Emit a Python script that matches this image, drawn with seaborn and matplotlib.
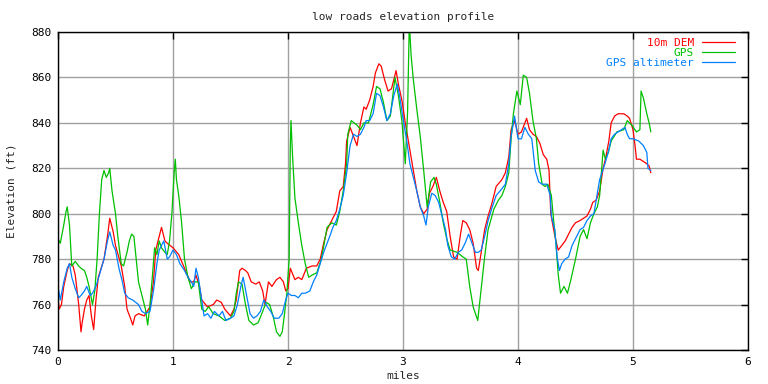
import pandas as pd
import matplotlib
matplotlib.use("Agg")
import matplotlib.pyplot as plt
import seaborn as sns

# distances (miles) and elevations (ft)
dem_miles = [0.00, 0.01, 0.03, 0.05, 0.08, 0.10, 0.13, 0.15, 0.18, 0.20, 0.21, 0.23, 0.25, 0.27, 0.29, 0.31,
             0.33, 0.35, 0.40, 0.43, 0.45, 0.48, 0.50, 0.55, 0.58, 0.60, 0.63, 0.65, 0.67, 0.70, 0.75, 0.80,
             0.83, 0.85, 0.88, 0.90, 0.93, 0.95, 1.00, 1.05, 1.10, 1.15, 1.18, 1.20, 1.23, 1.25, 1.30, 1.35,
             1.38, 1.42, 1.45, 1.50, 1.53, 1.55, 1.58, 1.60, 1.63, 1.65, 1.68, 1.72, 1.75, 1.78, 1.80, 1.83,
             1.86, 1.90, 1.93, 1.96, 1.98, 2.00, 2.02, 2.06, 2.09, 2.12, 2.16, 2.21, 2.25, 2.28, 2.31, 2.34,
             2.37, 2.39, 2.42, 2.45, 2.48, 2.50, 2.51, 2.54, 2.57, 2.60, 2.63, 2.66, 2.68, 2.71, 2.74, 2.76,
             2.79, 2.81, 2.84, 2.87, 2.90, 2.94, 2.96, 2.99, 3.02, 3.04, 3.06, 3.09, 3.12, 3.15, 3.18, 3.21,
             3.23, 3.26, 3.29, 3.32, 3.35, 3.38, 3.41, 3.44, 3.47, 3.50, 3.52, 3.55, 3.58, 3.61, 3.64, 3.655,
             3.68, 3.71, 3.74, 3.77, 3.81, 3.86, 3.89, 3.92, 3.94, 3.97, 4.00, 4.03, 4.075, 4.10, 4.13, 4.16,
             4.19, 4.22, 4.25, 4.27, 4.285, 4.31, 4.33, 4.35, 4.38, 4.41, 4.44, 4.47, 4.50, 4.54, 4.57, 4.60,
             4.63, 4.65, 4.68, 4.71, 4.74, 4.76, 4.79, 4.81, 4.84, 4.87, 4.92, 4.95, 4.97, 5.00, 5.02, 5.03,
             5.06, 5.09, 5.12, 5.14, 5.155]
dem_elev = [763, 758, 760, 768, 775, 778, 777, 773, 760, 748, 752, 758, 762, 764, 755, 749,
            762, 772, 780, 790, 798, 792, 786, 777, 768, 758, 754, 751, 755, 756, 755, 759,
            770, 784, 790, 794, 788, 787, 785, 782, 776, 770, 770, 773, 768, 762, 759, 760,
            762, 761, 758, 755, 758, 762, 775, 776, 775, 774, 770, 769, 770, 766, 760, 770,
            768, 771, 772, 770, 766, 767, 776, 771, 772, 771, 776, 777, 777, 780, 787, 793,
            796, 798, 801, 810, 812, 822, 832, 838, 834, 830, 840, 847, 846, 850, 856, 862,
            866, 865, 859, 854, 855, 863, 857, 850, 840, 834, 828, 819, 810, 803, 800, 802,
            809, 812, 816, 810, 805, 801, 790, 781, 780, 791, 797, 796, 793, 787, 776, 775,
            783, 793, 799, 804, 812, 815, 818, 825, 837, 841, 835, 836, 842, 837, 835, 834,
            831, 826, 824, 819, 800, 793, 788, 784, 786, 788, 791, 794, 796, 797, 798, 799,
            802, 805, 806, 810, 820, 824, 832, 840, 843, 844, 844, 843, 842, 837, 829, 824,
            824, 823, 822, 821, 818]

gps_miles = [0.00, 0.02, 0.05, 0.07, 0.08, 0.10, 0.12, 0.15, 0.18, 0.20, 0.23, 0.25, 0.27, 0.30, 0.32, 0.34,
             0.36, 0.38, 0.40, 0.42, 0.44, 0.45, 0.47, 0.50, 0.52, 0.55, 0.57, 0.60, 0.62, 0.64, 0.66, 0.68,
             0.70, 0.73, 0.76, 0.78, 0.80, 0.82, 0.84, 0.86, 0.88, 0.90, 0.93, 0.95, 0.97, 0.99, 1.01, 1.02,
             1.03, 1.05, 1.075, 1.10, 1.13, 1.16, 1.19, 1.22, 1.25, 1.28, 1.31, 1.35, 1.40, 1.45, 1.50, 1.53,
             1.55, 1.57, 1.60, 1.63, 1.66, 1.70, 1.74, 1.78, 1.81, 1.84, 1.87, 1.90, 1.93, 1.95, 1.97, 1.99,
             2.01, 2.02, 2.026, 2.04, 2.06, 2.09, 2.12, 2.15, 2.18, 2.21, 2.25, 2.29, 2.34, 2.38, 2.42, 2.45,
             2.48, 2.51, 2.52, 2.55, 2.60, 2.63, 2.66, 2.70, 2.74, 2.77, 2.80, 2.83, 2.86, 2.89, 2.93, 2.96,
             2.99, 3.02, 3.04, 3.055, 3.07, 3.09, 3.12, 3.15, 3.18, 3.21, 3.24, 3.27, 3.29, 3.32, 3.35, 3.38,
             3.41, 3.47, 3.52, 3.55, 3.58, 3.61, 3.65, 3.68, 3.71, 3.74, 3.79, 3.83, 3.86, 3.89, 3.92, 3.94,
             3.96, 3.99, 4.02, 4.046, 4.075, 4.10, 4.13, 4.16, 4.18, 4.21, 4.235, 4.26, 4.29, 4.31, 4.33, 4.35,
             4.37, 4.40, 4.43, 4.46, 4.50, 4.54, 4.57, 4.60, 4.63, 4.66, 4.69, 4.71, 4.74, 4.76, 4.785, 4.81,
             4.86, 4.92, 4.95, 4.99, 5.03, 5.06, 5.07, 5.09, 5.12, 5.14, 5.155]
gps_elev = [789, 787, 795, 801, 803, 795, 777, 779, 777, 776, 775, 772, 768, 760, 766, 780,
            800, 815, 819, 816, 818, 820, 810, 800, 790, 778, 777, 783, 788, 791, 790, 780,
            770, 764, 758, 751, 760, 772, 785, 782, 788, 785, 783, 782, 788, 800, 818, 824,
            815, 808, 796, 780, 772, 767, 770, 770, 758, 757, 759, 756, 755, 753, 754, 757,
            765, 770, 769, 760, 753, 751, 752, 757, 761, 760, 755, 748, 746, 748, 756, 765,
            780, 830, 841, 825, 807, 796, 786, 778, 772, 773, 774, 780, 794, 796, 795, 801,
            810, 822, 835, 841, 839, 837, 840, 840, 848, 856, 855, 849, 841, 843, 860, 852,
            841, 822, 845, 885, 870, 859, 846, 834, 819, 803, 814, 816, 813, 805, 796, 789,
            784, 783, 781, 780, 768, 759, 753, 767, 781, 793, 802, 806, 808, 812, 818, 833,
            844, 854, 848, 861, 860, 853, 841, 833, 822, 813, 812, 813, 808, 797, 787, 773,
            765, 768, 765, 771, 780, 790, 793, 789, 796, 800, 803, 808, 828, 824, 827, 832,
            836, 837, 841, 839, 836, 837, 854, 851, 844, 840, 836]

alt_miles = [0.00, 0.02, 0.05, 0.08, 0.10, 0.12, 0.15, 0.18, 0.20, 0.23, 0.25, 0.28, 0.30, 0.33, 0.36, 0.40,
             0.43, 0.45, 0.48, 0.50, 0.53, 0.56, 0.58, 0.61, 0.65, 0.70, 0.73, 0.76, 0.80, 0.83, 0.86, 0.88,
             0.90, 0.92, 0.95, 0.97, 1.00, 1.03, 1.06, 1.10, 1.13, 1.16, 1.18, 1.20, 1.22, 1.25, 1.27, 1.30,
             1.33, 1.36, 1.40, 1.43, 1.46, 1.50, 1.53, 1.56, 1.59, 1.61, 1.64, 1.67, 1.70, 1.73, 1.76, 1.79,
             1.82, 1.85, 1.88, 1.92, 1.95, 1.98, 2.00, 2.03, 2.06, 2.09, 2.12, 2.15, 2.19, 2.22, 2.25, 2.28,
             2.31, 2.34, 2.37, 2.39, 2.42, 2.45, 2.48, 2.51, 2.54, 2.57, 2.60, 2.63, 2.66, 2.68, 2.71, 2.74,
             2.77, 2.80, 2.83, 2.86, 2.89, 2.92, 2.95, 2.97, 3.00, 3.03, 3.06, 3.09, 3.12, 3.15, 3.18, 3.20,
             3.22, 3.25, 3.28, 3.31, 3.34, 3.37, 3.39, 3.42, 3.45, 3.48, 3.51, 3.54, 3.57, 3.60, 3.63, 3.655,
             3.68, 3.71, 3.74, 3.77, 3.81, 3.86, 3.89, 3.92, 3.94, 3.97, 4.00, 4.03, 4.06, 4.09, 4.12, 4.15,
             4.18, 4.21, 4.25, 4.28, 4.29, 4.32, 4.34, 4.36, 4.38, 4.41, 4.44, 4.47, 4.50, 4.54, 4.57, 4.60,
             4.63, 4.66, 4.71, 4.756, 4.79, 4.81, 4.84, 4.87, 4.90, 4.93, 4.95, 4.97, 5.00, 5.05, 5.09, 5.12,
             5.13, 5.155]
alt_elev = [768, 762, 770, 776, 778, 772, 767, 763, 764, 766, 768, 764, 765, 768, 773, 780,
            788, 792, 786, 784, 776, 770, 765, 763, 762, 760, 757, 756, 757, 766, 778, 784,
            786, 788, 780, 781, 784, 782, 778, 775, 772, 770, 768, 776, 772, 762, 755, 756,
            754, 757, 755, 757, 753, 754, 755, 760, 768, 772, 764, 756, 754, 755, 757, 762,
            759, 757, 754, 754, 756, 762, 765, 764, 764, 763, 765, 765, 766, 770, 773, 778,
            783, 787, 791, 794, 797, 802, 808, 818, 830, 835, 834, 835, 838, 841, 841, 844,
            853, 852, 847, 841, 844, 852, 857, 852, 842, 833, 822, 816, 810, 803, 799, 795,
            803, 809, 808, 805, 799, 793, 786, 781, 780, 783, 784, 787, 791, 787, 783, 783,
            784, 790, 797, 802, 808, 811, 813, 822, 834, 843, 833, 833, 838, 835, 833, 819,
            814, 813, 813, 808, 799, 793, 781, 775, 778, 780, 781, 786, 789, 793, 794, 797,
            799, 800, 815, 822, 828, 833, 835, 836, 837, 838, 835, 833, 833, 832, 830, 827,
            820, 819]

labels = ["10m DEM", "GPS", "GPS altimeter"]
colors = ["#ff0000", "#00c000", "#0080ff"]

df = pd.concat([
    pd.DataFrame({"miles": dem_miles, "elev": dem_elev, "source": labels[0]}),
    pd.DataFrame({"miles": gps_miles, "elev": gps_elev, "source": labels[1]}),
    pd.DataFrame({"miles": alt_miles, "elev": alt_elev, "source": labels[2]}),
], ignore_index=True)

sns.set_style("white")
plt.rcParams["font.family"] = ["DejaVu Sans Mono"]
plt.rcParams["font.size"] = 8

fig = plt.figure(figsize=(7.68, 3.84), dpi=100)
ax = fig.add_axes([58 / 768, 34 / 384, 690 / 768, 318 / 384])

sns.lineplot(data=df, x="miles", y="elev", hue="source", palette=dict(zip(labels, colors)),
             estimator=None, errorbar=None, linewidth=0.9, ax=ax)

ax.set_xlim(0, 6)
ax.set_ylim(740, 880)
ax.set_xticks(range(0, 7))
ax.set_yticks(range(740, 881, 20))
ax.grid(True, color="#a0a0a0", linewidth=1)
ax.set_axisbelow(True)
for s in ax.spines.values():
    s.set_color("black")
    s.set_linewidth(1)
ax.tick_params(direction="in", length=5, width=1, top=True, right=True,
               labelsize=8, colors="black", pad=5)

ax.set_xlabel("miles", fontsize=8, labelpad=3)
ax.set_ylabel("Elevation (ft)", fontsize=8, labelpad=10)
ax.set_title("low roads elevation profile", fontsize=8, pad=9)

ax.legend(loc="upper right", bbox_to_anchor=(0.9875, 0.996), borderaxespad=0,
          frameon=False, markerfirst=False, labelcolor="linecolor",
          fontsize=8, handlelength=3, handletextpad=0.7, labelspacing=0.0)

fig.savefig("out.png", dpi=100)
plt.close()
